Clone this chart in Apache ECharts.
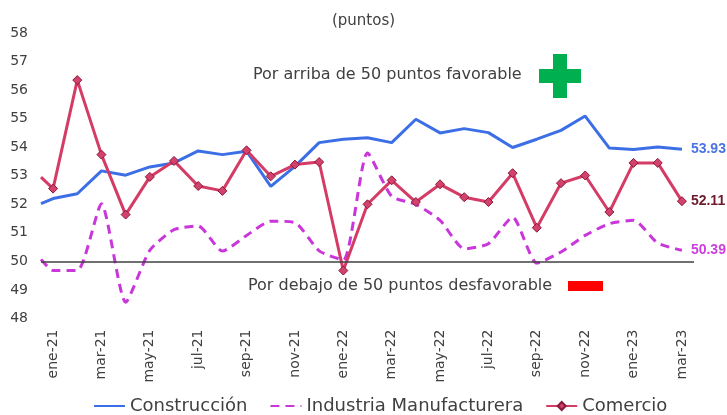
<!DOCTYPE html>
<html><head><meta charset="utf-8">
<script src="https://cdn.jsdelivr.net/npm/echarts@6/dist/echarts.min.js"></script>
<style>html,body{margin:0;padding:0;background:#fff}#c{width:727px;height:415px}</style>
</head><body><div id="c"></div>
<script>
const months = ['ene-21','feb-21','mar-21','abr-21','may-21','jun-21','jul-21','ago-21','sep-21','oct-21','nov-21','dic-21',
  'ene-22','feb-22','mar-22','abr-22','may-22','jun-22','jul-22','ago-22','sep-22','oct-22','nov-22','dic-22',
  'ene-23','feb-23','mar-23'];
// value at the left edge of the plot (start of the lines)
const startConstruccion = 52.02;
const startIndustria = 50.07;
const startComercio = 52.95;
const construccion = [52.2,52.37,53.17,53.02,53.31,53.45,53.87,53.74,53.86,52.63,53.33,54.16,
  54.28,54.33,54.16,54.98,54.5,54.65,54.51,53.99,54.28,54.59,55.09,53.97,53.92,54.01,53.93];
const industria = [49.68,49.68,52.02,48.57,50.39,51.11,51.24,50.36,50.91,51.41,51.36,50.37,
  50.05,53.8,52.28,52.0,51.44,50.44,50.62,51.55,49.94,50.33,50.91,51.32,51.44,50.64,50.39];
const comercio = [52.55,56.35,53.74,51.64,52.96,53.52,52.64,52.47,53.89,52.98,53.39,53.48,
  49.68,52.0,52.84,52.08,52.7,52.25,52.08,53.09,51.18,52.74,53.01,51.73,53.45,53.45,52.11];
const yTicks = {min: 48, max: 58, step: 1};

const FONT = 'DejaVu Sans';
function build(start, arr) {
  const d = [{value: [-0.5, start], symbol: 'none'}];
  arr.forEach((v, i) => d.push({value: [i, v]}));
  return d;
}
function endLabel(color) {
  return {show: true, distance: 9, color: color, fontFamily: 'Liberation Sans', fontWeight: 'bold', fontSize: 14,
    formatter: p => p.value[1].toFixed(2)};
}

const chart = echarts.init(document.getElementById('c'));
chart.setOption({
  animation: false,
  textStyle: {fontFamily: FONT},
  title: {text: '(puntos)', left: 'center', top: 9,
    textStyle: {fontFamily: FONT, fontSize: 15, fontWeight: 'normal', color: '#404040'}},
  grid: {left: 41, right: 33, top: 33, bottom: 96.5},
  xAxis: [
    {type: 'category', data: months, boundaryGap: true,
      axisLine: {show: false}, axisTick: {show: false}, splitLine: {show: false},
      axisLabel: {interval: 1, rotate: 90, margin: 11, fontSize: 14, color: '#404040', fontFamily: FONT}},
    {type: 'value', min: -0.5, max: months.length - 0.5, show: false, splitLine: {show: false}}
  ],
  yAxis: {type: 'value', min: yTicks.min, max: yTicks.max, interval: yTicks.step,
    axisLine: {show: false}, axisTick: {show: false}, splitLine: {show: false},
    axisLabel: {margin: 13, fontSize: 14, color: '#404040', fontFamily: FONT}},
  legend: {bottom: -5, left: 88, itemWidth: 31, itemHeight: 10, itemGap: 22,
    textStyle: {fontFamily: FONT, fontSize: 18, color: '#404040'},
    data: [
      {name: 'Construcción', itemStyle: {opacity: 0}},
      {name: 'Industria Manufacturera', itemStyle: {opacity: 0}},
      {name: 'Comercio'}
    ]},
  series: [
    {name: 'Construcción', type: 'line', xAxisIndex: 1, data: build(startConstruccion, construccion),
      symbol: 'none', lineStyle: {color: '#3c6fe6', width: 3}, itemStyle: {color: '#3c6fe6'},
      endLabel: endLabel('#4a74e4'),
      markLine: {silent: true, symbol: 'none', label: {show: false},
        lineStyle: {color: '#404040', width: 1.5, type: 'solid'}, data: [{yAxis: 50}]}},
    {name: 'Industria Manufacturera', type: 'line', xAxisIndex: 1, data: build(startIndustria, industria),
      symbol: 'none', smooth: 0.2, lineStyle: {color: '#c936d9', width: 3, type: [9, 6]}, itemStyle: {color: '#c936d9'},
      endLabel: endLabel('#cc3fdc')},
    {name: 'Comercio', type: 'line', xAxisIndex: 1, data: build(startComercio, comercio),
      symbol: 'diamond', symbolSize: 9,
      lineStyle: {color: '#d43c66', width: 3}, itemStyle: {color: '#d2426c', borderColor: '#8a1838', borderWidth: 1},
      endLabel: endLabel('#6e1a2c')}
  ],
  graphic: [
    {type: 'text', left: 253, top: 67, style: {text: 'Por arriba de 50 puntos favorable', fontFamily: FONT, fontSize: 16, fill: '#404040'}},
    {type: 'group', left: 539, top: 54, children: [
      {type: 'rect', shape: {x: 14, y: 0, width: 14, height: 44}, style: {fill: '#00b050'}},
      {type: 'rect', shape: {x: 0, y: 15, width: 42, height: 14}, style: {fill: '#00b050'}}
    ]},
    {type: 'text', left: 248, top: 278, style: {text: 'Por debajo de 50 puntos desfavorable', fontFamily: FONT, fontSize: 16, fill: '#404040'}},
    {type: 'rect', left: 568, top: 281, shape: {width: 35, height: 10}, style: {fill: '#ff0000'}}
  ]
});
</script></body></html>
